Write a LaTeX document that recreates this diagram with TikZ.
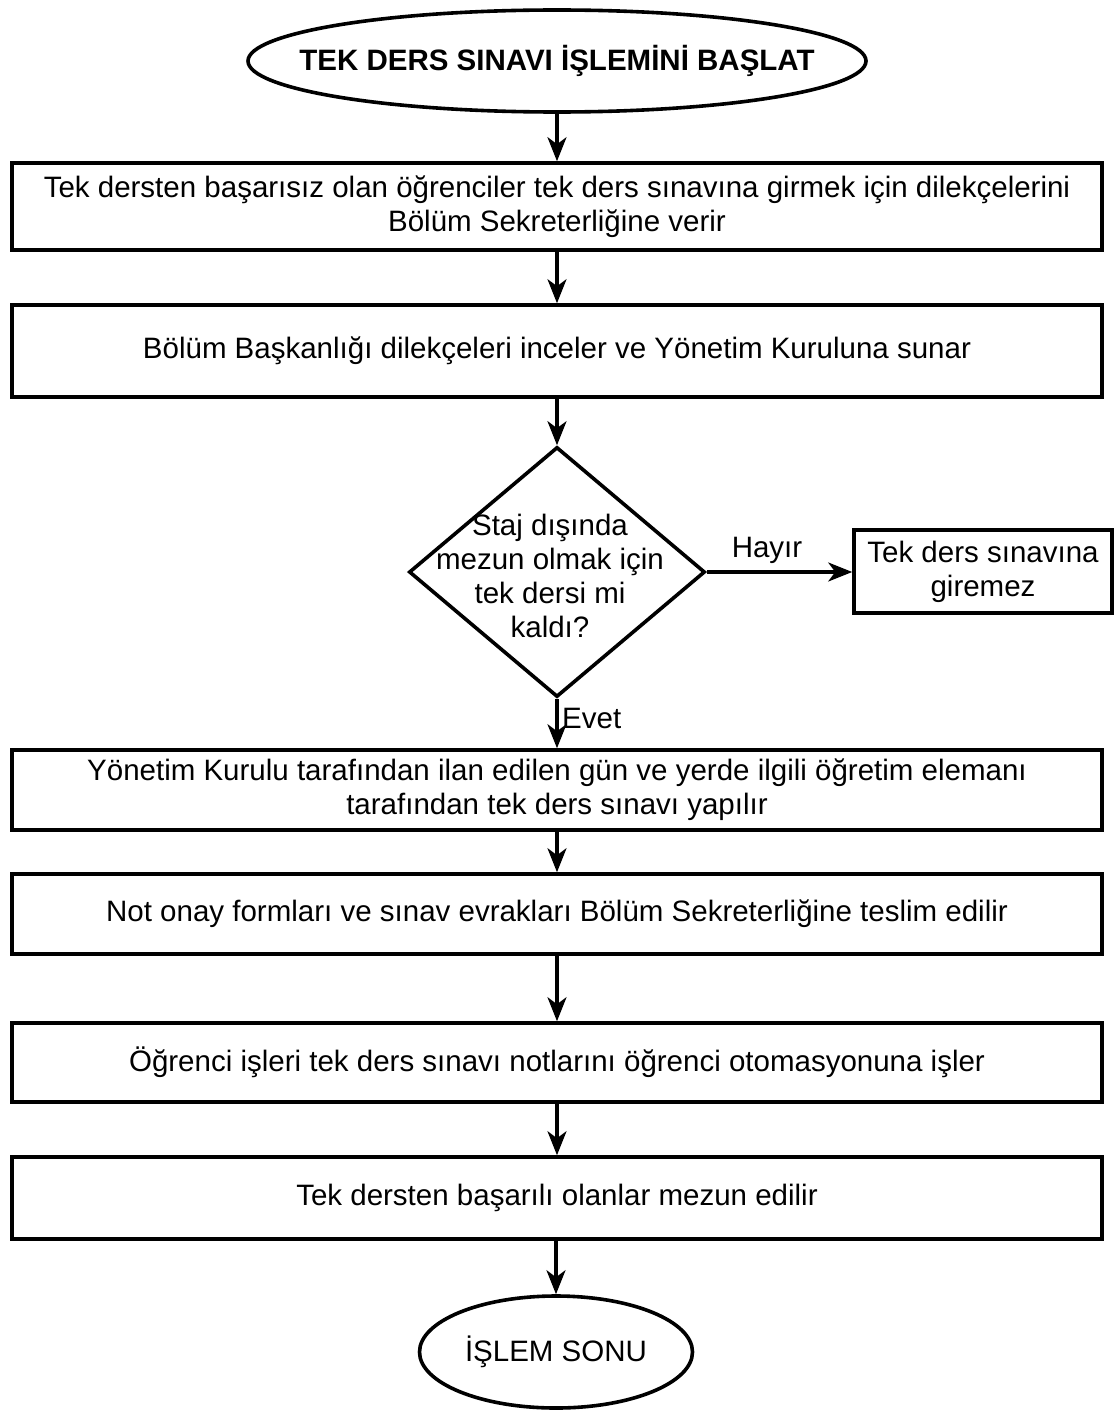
\documentclass[tikz,border=0pt]{standalone}
\usepackage{fontspec}
\setmainfont{Liberation Sans}
\usetikzlibrary{shapes.geometric,arrows.meta}
\begin{document}
\begin{tikzpicture}[x=1pt,y=-1pt,
  every node/.style={font=\fontsize{29.5}{34}\selectfont},
  box/.style={draw, line width=3.6pt, rectangle, minimum width=1090pt, align=center, inner sep=0pt},
  term/.style={draw, line width=3.6pt, ellipse, inner sep=0pt},
  arr/.style={-{Stealth[length=24pt,width=19pt,inset=7pt]}, line width=3.2pt},
]
\useasboundingbox (0,0) rectangle (1115,1410);
\node[term, minimum width=618pt, minimum height=102pt] (start) at (557,61) {};
\node[font=\bfseries\fontsize{29.5}{34}\selectfont] (startText) at (start.center) {TEK DERS SINAVI İŞLEMİNİ BAŞLAT};
\node[box, minimum height=87pt] (b1) at (557,206.5) {Tek dersten başarısız olan öğrenciler tek ders sınavına girmek için dilekçelerini\\Bölüm Sekreterliğine verir};
\node[box, minimum height=92pt] (b2) at (557,351) {Bölüm Başkanlığı dilekçeleri inceler ve Yönetim Kuruluna sunar};
\node[draw, diamond, line width=3.6pt, minimum width=296pt, minimum height=250pt, inner sep=0pt] (dec) at (557,572) {};
\node[align=center, inner sep=0pt] (decText) at (550,576) {Staj dışında\\mezun olmak için\\tek dersi mi\\kaldı?};
\node[draw, line width=3.6pt, minimum width=258pt, minimum height=83pt, align=center, inner sep=0pt] (no) at (983,571.5) {Tek ders sınavına\\giremez};
\node[box, minimum height=80pt] (b3) at (557,790) {Yönetim Kurulu tarafından ilan edilen gün ve yerde ilgili öğretim elemanı\\tarafından tek ders sınavı yapılır};
\node[box, minimum height=80pt] (b4) at (557,914) {Not onay formları ve sınav evrakları Bölüm Sekreterliğine teslim edilir};
\node[box, minimum height=79pt] (b5) at (557,1062.5) {Öğrenci işleri tek ders sınavı notlarını öğrenci otomasyonuna işler};
\node[box, minimum height=82pt] (b6) at (557,1198) {Tek dersten başarılı olanlar mezun edilir};
\node[term, minimum width=273pt, minimum height=112pt] (end) at (556,1352) {};
\node (endText) at (end.center) {İŞLEM SONU};
\node (hayir) at (767,550) {Hayır};
\node[anchor=west, inner sep=0pt] (evet) at (562,718) {Evet};
\draw[arr] (start) -- (b1);
\draw[arr] (b1) -- (b2);
\draw[arr] (b2) -- (dec);
\draw[arr] (dec.east) -- (dec.east -| no.west);
\draw[arr] (dec.south) -- (dec.south |- b3.north);
\draw[arr] (b3) -- (b4);
\draw[arr] (b4) -- (b5);
\draw[arr] (b5) -- (b6);
\draw[arr] (b6.south -| end.north) -- (end.north);
\end{tikzpicture}
\end{document}
